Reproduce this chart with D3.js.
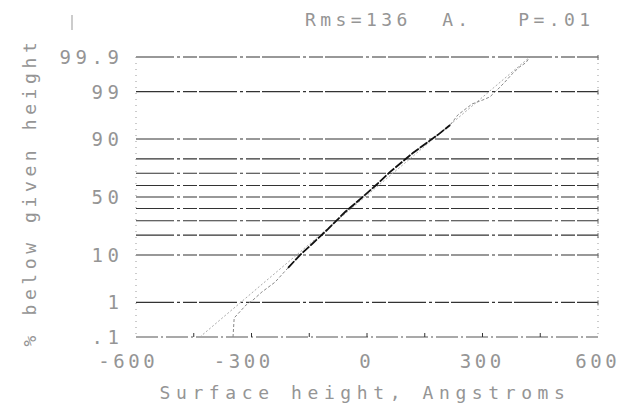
<!DOCTYPE html>
<html>
<head>
<meta charset="utf-8">
<script src="https://cdn.jsdelivr.net/npm/d3@7"></script>
<style>
  body { margin: 0; background: #fff; }
  text { font-family: "DejaVu Sans Mono", monospace; fill: #959595; white-space: pre; }
</style>
</head>
<body>
<div id="chart"></div>
<script>
// measured surface heights (Angstroms) and cumulative % below them
const heights = [-348, -345, -314, -296, -273, -239, -205, -174, -140, -104, -57, -18, 21, 60,
                 119, 151, 184, 216, 236, 273, 301, 319, 338, 358, 377, 395, 413, 423]
const cumPct = [0.1, 0.38, 0.86, 1.15, 1.8, 3.0, 5.9, 10, 15.5, 23.3, 37, 48, 59.6, 71,
                83.4, 87.9, 91.5, 94.4, 96.5, 98.0, 98.39, 98.64, 99.09, 99.44, 99.67, 99.79, 99.85, 99.9]

// straight gaussian reference line
const fitHeights = [-434, 423]
const fitPct = [0.1, 99.9]

// probability grid and labels
const gridPct = [0.1, 1, 10, 20, 30, 40, 50, 60, 70, 80, 90, 99, 99.9]
const labelPct = [0.1, 1, 10, 50, 90, 99, 99.9]
const labelText = ['.1', '1', '10', '50', '90', '99', '99.9']
const xTickVals = [-450, -300, -150, 0, 150, 300, 450]
const xLabelVals = [-600, -300, 0, 300, 600]

const titleText = 'Rms=136  A.   P=.01'
const xTitle = 'Surface height, Angstroms'
const yTitle = '% below given height'

// inverse normal cdf (Acklam) so the y axis is a probability scale
function probit(p) {
  const a = [-3.969683028665376e+01, 2.209460984245205e+02, -2.759285104469687e+02, 1.383577518672690e+02, -3.066479806614716e+01, 2.506628277459239e+00]
  const b = [-5.447609879822406e+01, 1.615858368580409e+02, -1.556989798598866e+02, 6.680131188771972e+01, -1.328068155288572e+01]
  const c = [-7.784894002430293e-03, -3.223964580411365e-01, -2.400758277161838e+00, -2.549671348441381e+00, 4.374664141464968e+00, 2.938163982698783e+00]
  const d = [7.784695709041462e-03, 3.224671290700398e-01, 2.445134137142996e+00, 3.754408661907416e+00]
  const pl = 0.02425
  if (p < pl) {
    const q = Math.sqrt(-2 * Math.log(p))
    return (((((c[0]*q+c[1])*q+c[2])*q+c[3])*q+c[4])*q+c[5]) / ((((d[0]*q+d[1])*q+d[2])*q+d[3])*q+1)
  }
  if (p > 1 - pl) {
    const q = Math.sqrt(-2 * Math.log(1 - p))
    return -(((((c[0]*q+c[1])*q+c[2])*q+c[3])*q+c[4])*q+c[5]) / ((((d[0]*q+d[1])*q+d[2])*q+d[3])*q+1)
  }
  const q = p - 0.5, r = q * q
  return (((((a[0]*r+a[1])*r+a[2])*r+a[3])*r+a[4])*r+a[5])*q / (((((b[0]*r+b[1])*r+b[2])*r+b[3])*r+b[4])*r+1)
}

const W = 621, H = 406
const plotL = 136, plotR = 598, plotT = 57, plotB = 337

var x = d3.scaleLinear().domain([-600, 600]).range([plotL, plotR])
var z = d3.scaleLinear().domain([probit(0.001), probit(0.999)]).range([plotB, plotT])
var y = (pct) => z(probit(pct / 100))

var svg = d3.select('#chart').append('svg')
    .attr('width', W)
    .attr('height', H)

svg.append('rect').attr('width', W).attr('height', H).attr('fill', '#fff')

// horizontal probability grid
svg.selectAll('.grid')
    .data(gridPct)
    .enter()
    .append('line')
    .attr('class', 'grid')
    .attr('x1', plotL).attr('x2', plotR)
    .attr('y1', d => y(d)).attr('y2', d => y(d))
    .attr('stroke', (d, i) => i === 0 ? '#555' : '#333')
    .attr('stroke-width', 1.1)
    .attr('stroke-dasharray', (d, i) => i === 0 ? '22 3 2 3' : '38 3 3 3 14 2')

// dotted side borders
svg.selectAll('.side')
    .data([plotL, plotR])
    .enter()
    .append('line')
    .attr('x1', d => d).attr('x2', d => d)
    .attr('y1', plotT).attr('y2', plotB)
    .attr('stroke', '#999')
    .attr('stroke-dasharray', '1 5')

// little marks on the right border at each grid line
svg.selectAll('.rtick')
    .data(gridPct.slice(1))
    .enter()
    .append('line')
    .attr('x1', plotR).attr('x2', plotR)
    .attr('y1', d => y(d) - 2).attr('y2', d => y(d) + 3)
    .attr('stroke', '#666')

// bottom axis ticks
svg.selectAll('.xtick')
    .data(xTickVals)
    .enter()
    .append('line')
    .attr('x1', d => x(d)).attr('x2', d => x(d))
    .attr('y1', plotB - 4).attr('y2', plotB)
    .attr('stroke', '#333')

// gaussian reference line
var line = d3.line().x(d => x(d[0])).y(d => y(d[1]))
svg.append('path')
    .attr('d', line(d3.zip(fitHeights, fitPct)))
    .attr('fill', 'none')
    .attr('stroke', '#aaa')
    .attr('stroke-dasharray', '2 2')

// measured distribution: pale in the tails, dark where dense
var pts = d3.zip(heights, cumPct)
svg.append('path')
    .attr('d', line(pts))
    .attr('fill', 'none')
    .attr('stroke', '#888')
    .attr('stroke-dasharray', '3 2')

svg.append('path')
    .attr('d', line(pts.filter(d => d[1] >= 5 && d[1] <= 94.5)))
    .attr('fill', 'none')
    .attr('stroke', '#111')
    .attr('stroke-width', 1.8)
    .attr('stroke-dasharray', '9 1.5')

// labels
var fs = 19, ls = 4.6, xls = 3.6
svg.selectAll('.ylab')
    .data(labelPct)
    .enter()
    .append('text')
    .attr('x', 119 + ls)
    .attr('y', d => y(d) + 7)
    .attr('text-anchor', 'end')
    .attr('font-size', fs)
    .attr('letter-spacing', ls)
    .text((d, i) => labelText[i])

svg.selectAll('.xlab')
    .data(xLabelVals)
    .enter()
    .append('text')
    .attr('x', d => x(d) - 2 + xls / 2 - (d < 0 ? 7.5 : 0))
    .attr('y', 368)
    .attr('text-anchor', 'middle')
    .attr('font-size', fs)
    .attr('letter-spacing', xls)
    .text(d => d3.format('d')(d).replace('\u2212', '-'))

svg.append('text')
    .attr('x', 365)
    .attr('y', 399)
    .attr('text-anchor', 'middle')
    .attr('font-size', 18)
    .attr('letter-spacing', 5.6)
    .text(xTitle)

svg.append('text')
    .attr('transform', 'translate(36,192) rotate(-90)')
    .attr('text-anchor', 'middle')
    .attr('font-size', 18)
    .attr('letter-spacing', 4.6)
    .text(yTitle)

svg.append('text')
    .attr('x', 305)
    .attr('y', 26)
    .attr('font-size', 18)
    .attr('letter-spacing', 4.4)
    .text(titleText)

// stray pen mark top left
svg.append('line')
    .attr('x1', 72).attr('x2', 72)
    .attr('y1', 15).attr('y2', 30)
    .attr('stroke', '#999')
</script>
</body>
</html>
